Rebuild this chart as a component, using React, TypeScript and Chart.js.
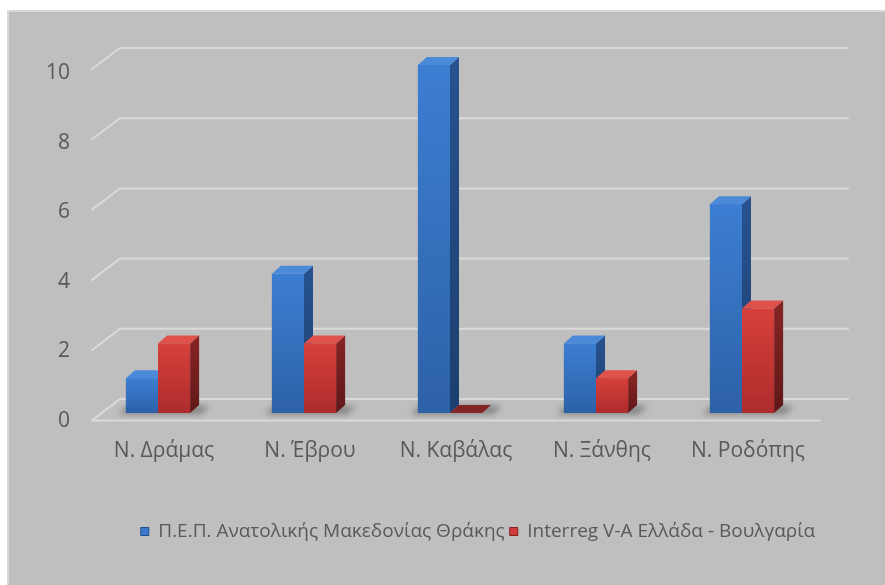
import React, { useEffect, useRef } from "react";
import { Chart, registerables } from "chart.js";

Chart.register(...registerables);

const categories = ["Ν. Δράμας", "Ν. Έβρου", "Ν. Καβάλας", "Ν. Ξάνθης", "Ν. Ροδόπης"];
const pepValues = [1, 4, 10, 2, 6];
const interregValues = [2, 2, 0, 1, 3];
const seriesNames = ["Π.Ε.Π. Ανατολικής Μακεδονίας Θράκης", "Interreg V-A Ελλάδα - Βουλγαρία"];
const yTicks = [0, 2, 4, 6, 8, 10];

const FONT = "'Open Sans', 'Noto Sans', sans-serif";
const TEXT = "#595959";
const DX = 9;
const DY = -8;

const palette = [
  { frontTop: "#3c7ed2", frontBottom: "#2d61a8", sideTop: "#27528e", sideBottom: "#1d3f6e", top: "#4a8ad9" },
  { frontTop: "#d7403c", frontBottom: "#ad2c2b", sideTop: "#842424", sideBottom: "#601818", top: "#df514b" },
];

const threeD = {
  id: "threeD",
  afterLayout(chart: any) {
    // legend of the reference sits right of centre
    if (chart.legend) {
      chart.legend.left = 71;
    }
  },
  beforeDatasetsDraw(chart: any) {
    const { ctx, chartArea: ca, scales } = chart;
    const y = scales.y;
    const base = y.getPixelForValue(0);
    const backY = (v: number) => base - 14 + (y.getPixelForValue(v) - base) * 1.0086;
    const frontY = (v: number) => base + 7.5 + (y.getPixelForValue(v) - base) * 1.01;
    const frontLeft = ca.left + 7;
    const backLeft = ca.left + 35;
    const backRight = ca.right + 33;
    const frontRight = ca.right + 5;
    ctx.save();
    ctx.strokeStyle = "#dadada";
    ctx.lineWidth = 2;
    ctx.lineCap = "round";
    for (const v of yTicks) {
      ctx.beginPath();
      ctx.moveTo(frontLeft, frontY(v));
      ctx.lineTo(backLeft, backY(v));
      ctx.lineTo(backRight, backY(v));
      ctx.stroke();
    }
    ctx.beginPath();
    ctx.moveTo(frontLeft, frontY(0));
    ctx.lineTo(frontRight, frontY(0));
    ctx.stroke();

    // soft floor shadows
    const m0 = chart.getDatasetMeta(0).data;
    const m1 = chart.getDatasetMeta(1).data;
    ctx.filter = "blur(3px)";
    ctx.fillStyle = "rgba(35,35,35,0.4)";
    for (let i = 0; i < m0.length; i++) {
      const a = m0[i].getProps(["x", "width"], true);
      const b = m1[i].getProps(["x", "width"], true);
      const l = Math.min(a.x - a.width / 2, b.x - b.width / 2);
      const r = Math.max(a.x + a.width / 2, b.x + b.width / 2) + DX;
      ctx.beginPath();
      ctx.moveTo(l - 7, base + 1);
      ctx.lineTo(r + 2, base + 1);
      ctx.lineTo(r + 10, base - 7);
      ctx.lineTo(l + 2, base - 7);
      ctx.closePath();
      ctx.fill();
    }
    ctx.restore();
  },
  afterDatasetsDraw(chart: any) {
    const { ctx } = chart;
    const n = chart.data.labels.length;
    ctx.save();
    for (let i = 0; i < n; i++) {
      for (let d = 0; d < 2; d++) {
        const el = chart.getDatasetMeta(d).data[i];
        const { x, y: top, base, width } = el.getProps(["x", "y", "base", "width"], true);
        const p = palette[d];
        const left = x - width / 2;
        const right = x + width / 2;
        if (base - top > 0.5) {
          const g = ctx.createLinearGradient(0, top, 0, base);
          g.addColorStop(0, p.frontTop);
          g.addColorStop(1, p.frontBottom);
          ctx.fillStyle = g;
          ctx.fillRect(left, top, width, base - top);
          const gs = ctx.createLinearGradient(0, top, 0, base);
          gs.addColorStop(0, p.sideTop);
          gs.addColorStop(1, p.sideBottom);
          ctx.fillStyle = gs;
          ctx.beginPath();
          ctx.moveTo(right, top);
          ctx.lineTo(right + DX, top + DY);
          ctx.lineTo(right + DX, base + DY);
          ctx.lineTo(right, base);
          ctx.closePath();
          ctx.fill();
        }
        ctx.fillStyle = base - top > 0.5 ? p.top : p.sideTop;
        ctx.beginPath();
        ctx.moveTo(left, top);
        ctx.lineTo(left + DX, top + DY);
        ctx.lineTo(right + DX, top + DY);
        ctx.lineTo(right, top);
        ctx.closePath();
        ctx.fill();
      }
    }
    ctx.restore();
  },
};

export default function App() {
  const ref = useRef<HTMLCanvasElement>(null);
  useEffect(() => {
    const chart = new Chart(ref.current as HTMLCanvasElement, {
      type: "bar",
      data: {
        labels: categories,
        datasets: [
          { label: seriesNames[0], data: pepValues, backgroundColor: "#3b7bcf", borderColor: "#234d86", borderWidth: 1 },
          { label: seriesNames[1], data: interregValues, backgroundColor: "#d33c3a", borderColor: "#7e2222", borderWidth: 1 },
        ],
      },
      options: {
        responsive: false,
        animation: false,
        devicePixelRatio: 1,
        layout: { padding: { left: 0, right: 0, top: 65, bottom: 34 } },
        datasets: { bar: { categoryPercentage: 0.44, barPercentage: 1 } },
        scales: {
          x: {
            grid: { display: false, drawTicks: false },
            border: { display: false },
            ticks: { font: { family: FONT, size: 21 }, color: TEXT, padding: 25, labelOffset: 6 },
            afterFit: (s: any) => {
              s.height = 104;
              s.paddingLeft = 0;
              s.paddingRight = 0;
            },
          },
          y: {
            min: 0,
            max: 10,
            grid: { display: false, drawTicks: false },
            border: { display: false },
            ticks: { stepSize: 2, font: { family: FONT, size: 21 }, color: TEXT, padding: 15, labelOffset: 8 },
            afterFit: (s: any) => {
              s.width = 85;
              s.paddingTop = 0;
              s.paddingBottom = 0;
            },
          },
          yR: {
            type: "linear",
            position: "right",
            display: true,
            grid: { display: false, drawTicks: false },
            border: { display: false },
            ticks: { display: false },
            afterFit: (s: any) => {
              s.width = 70;
              s.paddingTop = 0;
              s.paddingBottom = 0;
            },
          },
        },
        plugins: {
          legend: {
            position: "bottom",
            labels: {
              font: { family: FONT, size: 19 },
              color: TEXT,
              boxWidth: 8,
              boxHeight: 8,
              padding: 5,
            },
          },
          tooltip: { enabled: false },
        },
      } as any,
      plugins: [threeD],
    });
    return () => chart.destroy();
  }, []);
  return (
    <div style={{ position: "absolute", left: 0, top: 0, width: 885, height: 585, overflow: "hidden", background: "#ffffff" }}>
      <div
        style={{
          position: "absolute",
          left: 7,
          top: 10,
          width: 900,
          height: 600,
          background: "#bfbfbf",
          border: "2px solid #d9d9d9",
          boxSizing: "border-box",
        }}
      />
      <canvas ref={ref} width={885} height={585} style={{ position: "absolute", left: 0, top: 0, width: 885, height: 585 }} />
    </div>
  );
}
